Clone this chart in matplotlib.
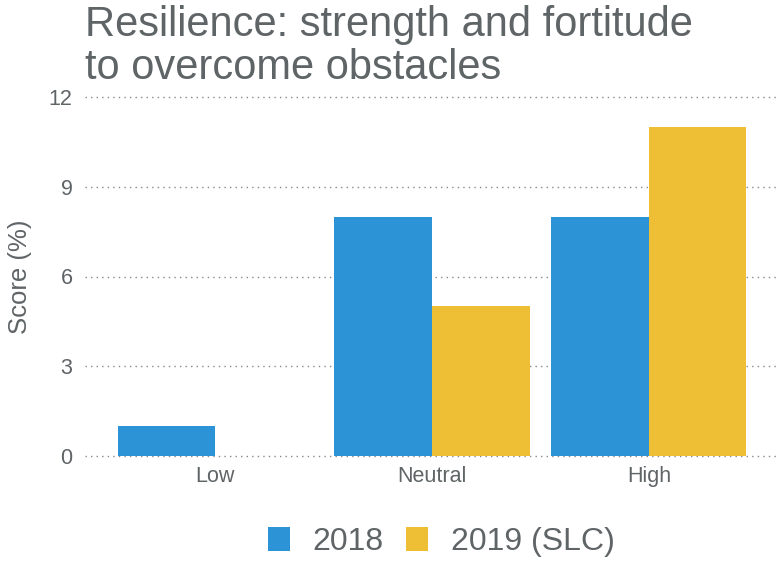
import numpy as np
import matplotlib.pyplot as plt

plt.rcParams['font.family'] = ['Liberation Sans', 'DejaVu Sans']

categories = ['Low', 'Neutral', 'High']
series_names = ['2018', '2019 (SLC)']
scores_2018 = [1, 8, 8]
scores_2019 = [np.nan, 5, 11]
y_ticks = [0, 3, 6, 9, 12]

colors = ['#2B93D6', '#EEBE35']
text_gray = '#5F6467'

fig = plt.figure(figsize=(7.81, 5.66), dpi=100)
ax = fig.add_axes([85 / 781, 1 - 465 / 566, 694 / 781, 377 / 566])

x = np.arange(1, len(categories) + 1)
w = 0.45
ax.bar(x - w / 2, scores_2018, width=w, color=colors[0], label=series_names[0], zorder=2)
ax.bar(x + w / 2, scores_2019, width=w, color=colors[1], label=series_names[1], zorder=2)

ax.set_xlim(0.4, 3.6)
ax.set_ylim(-0.3, 12.3)
ax.set_xticks(x)
ax.set_xticklabels(categories)
ax.set_yticks(y_ticks)
ax.tick_params(length=0, labelsize=15.5, labelcolor=text_gray)
ax.tick_params(axis='x', pad=1)
ax.tick_params(axis='y', pad=9)
for s in ax.spines.values():
    s.set_visible(False)
ax.yaxis.grid(True, linestyle=(0, (1, 3)), color='#888888', linewidth=1, zorder=0)

ax.set_ylabel('Score (%)', fontsize=18.5, color=text_gray, labelpad=12)

fig.text(85 / 781, 1 - 79 / 566, 'Resilience: strength and fortitude\nto overcome obstacles',
         fontsize=30, color=text_gray, ha='left', va='baseline', linespacing=1.1)

leg = fig.legend(loc='center', bbox_to_anchor=(441 / 781, 1 - 542 / 566), ncol=2,
                 frameon=False, fontsize=23, handlelength=0.7, handleheight=0.8,
                 handletextpad=0.7, columnspacing=0.7, labelcolor=text_gray)

fig.savefig('out.png', dpi=100)
